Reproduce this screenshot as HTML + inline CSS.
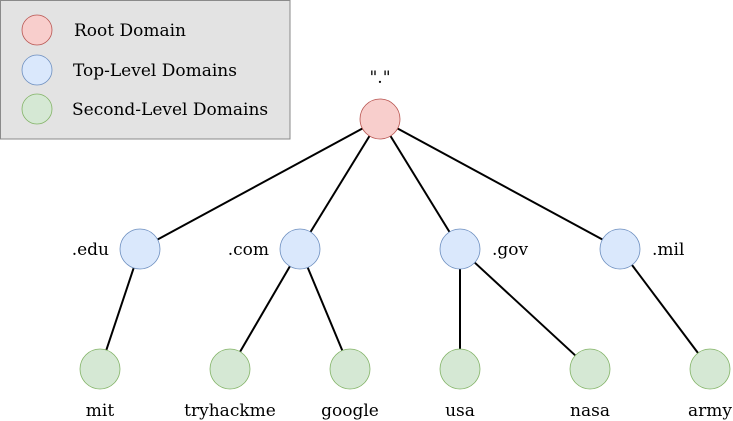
<!DOCTYPE html>
<html><head><meta charset="utf-8"><style>
html,body{margin:0;padding:0;background:#fff;width:733px;height:421px;overflow:hidden}
svg{display:block;font-family:"DejaVu Serif","Liberation Serif",serif;font-size:17px}
</style></head><body>
<svg id="d" width="733" height="421" viewBox="0 0 733 421">
<g>
<rect x="0.5" y="0.5" width="289.5" height="138.5" fill="#e3e3e3" stroke="#8a8a8a"/>
<circle cx="37" cy="30" r="15" fill="#f8cecc" stroke="#b85450" stroke-width="0.8"/>
<text x="74" y="36">Root Domain</text>
<circle cx="37" cy="70" r="15" fill="#dae8fc" stroke="#6c8ebf" stroke-width="0.8"/>
<text x="73" y="76">Top-Level Domains</text>
<circle cx="37" cy="109" r="15" fill="#d5e8d4" stroke="#82b366" stroke-width="0.8"/>
<text x="72" y="115">Second-Level Domains</text>
</g>
<g id="edges"></g>
<g id="nodes"></g>
</svg>
<script>
const rootNode = {id:'root', label:'"."', x:380, y:119};
const tldNames = ['.edu','.com','.gov','.mil'];
const tldX = [140,300,460,620];
const sldNames = ['mit','tryhackme','google','usa','nasa','army'];
const sldX = [100,230,350,460,590,710];
const sldParent = [0,1,1,2,2,3];
const NS='http://www.w3.org/2000/svg', R=20;
const edges=document.getElementById('edges'), nodes=document.getElementById('nodes');
function line(a,b,name){
  const dx=b.x-a.x, dy=b.y-a.y, L=Math.hypot(dx,dy), ux=dx/L, uy=dy/L;
  const l=document.createElementNS(NS,'line');
  l.setAttribute('x1',a.x+ux*R);l.setAttribute('y1',a.y+uy*R);
  l.setAttribute('x2',b.x-ux*R);l.setAttribute('y2',b.y-uy*R);
  l.setAttribute('stroke','#000');l.setAttribute('stroke-width','2');
  
  
  edges.appendChild(l);
}
function circle(p,fill,stroke,name){
  const c=document.createElementNS(NS,'circle');
  c.setAttribute('cx',p.x);c.setAttribute('cy',p.y);c.setAttribute('r',R);
  c.setAttribute('fill',fill);c.setAttribute('stroke',stroke);c.setAttribute('stroke-width','0.8');
  
  
  nodes.appendChild(c);
}
function text(x,y,s,anchor,name){
  const t=document.createElementNS(NS,'text');
  t.setAttribute('x',x);t.setAttribute('y',y);t.setAttribute('text-anchor',anchor);
  t.textContent=s;
  
  
  nodes.appendChild(t);
}
const tlds=tldNames.map((n,i)=>({label:n,x:tldX[i],y:249}));
const slds=sldNames.map((n,i)=>({label:n,x:sldX[i],y:369}));
tlds.forEach((t,i)=>line(rootNode,t,'edge-root-'+i));
slds.forEach((s,i)=>line(tlds[sldParent[i]],s,'edge-sld-'+i));
circle(rootNode,'#f8cecc','#b85450','root-node');
text(rootNode.x,rootNode.y-36,rootNode.label,'middle','root-label');
tlds.forEach((t,i)=>{
  circle(t,'#dae8fc','#6c8ebf','tld-node-'+i);
  if(i<2) text(t.x-31,t.y+6,t.label,'end','tld-label-'+i);
  else text(t.x+32,t.y+6,t.label,'start','tld-label-'+i);
});
slds.forEach((s,i)=>{
  circle(s,'#d5e8d4','#82b366','sld-node-'+i);
  text(s.x,s.y+47,s.label,'middle','sld-label-'+i);
});
</script>
</body></html>
